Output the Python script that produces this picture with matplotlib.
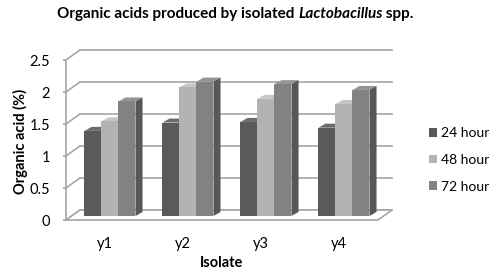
"""Excel-style pseudo-3D clustered bar chart of organic acid production."""

import matplotlib

matplotlib.use("Agg")
import matplotlib.pyplot as plt
from matplotlib.patches import Polygon
import numpy as np

isolates = ["y1", "y2", "y3", "y4"]
series = ["24 hour", "48 hour", "72 hour"]
acid_24h = [1.33, 1.46, 1.47, 1.38]
acid_48h = [1.48, 2.01, 1.83, 1.75]
acid_72h = [1.79, 2.10, 2.06, 1.97]
y_ticks = [0, 0.5, 1, 1.5, 2, 2.5]

front_colors = ["#5a5a5a", "#b3b3b3", "#828282"]
top_colors = ["#6c6c6c", "#c6c6c6", "#949494"]
side_colors = ["#434343", "#8c8c8c", "#575757"]
grid_color = "#a6a6a6"

# depth effect, in data units
BAR_W = 0.218
SHIFT = (0.064, 0.0625)   # bar front face sits behind the axis front plane
BAR_D = (0.09, 0.0625)    # depth of each bar
WALL_D = (0.18, 0.156)    # depth of the walls

plt.rcParams["font.family"] = ["Lato", "DejaVu Sans"]

fig = plt.figure(figsize=(5, 2.79), dpi=100)
ax = fig.add_axes([66 / 500, 59 / 279, 312 / 500, 160 / 279])
ax.set_xlim(-0.5, 3.5)
ax.set_ylim(0, 2.5)
for name in ("top", "right", "bottom"):
    ax.spines[name].set_visible(False)
ax.spines["left"].set_color(grid_color)
ax.spines["left"].set_linewidth(1.2)

# back wall gridlines and left wall slants
wx, wy = WALL_D
for t in y_ticks:
    ax.plot([-0.5 + wx, 3.5 + wx], [t + wy, t + wy], color=grid_color,
            lw=1.2, clip_on=False, zorder=1)
    ax.plot([-0.5, -0.5 + wx], [t, t + wy], color=grid_color,
            lw=1.2, clip_on=False, zorder=1)

# floor
floor = Polygon([(-0.5, 0), (3.5, 0), (3.5 + wx, wy), (-0.5 + wx, wy)],
                closed=True, facecolor="white", edgecolor=grid_color,
                lw=1.2, clip_on=False, zorder=1.5)
ax.add_patch(floor)

x = np.arange(len(isolates))
bx, by = BAR_D
handles = []
for j, vals in enumerate([acid_24h, acid_48h, acid_72h]):
    xs = x + (j - 1) * BAR_W + SHIFT[0]
    z = 3 + j
    bars = ax.bar(xs, vals, width=BAR_W, bottom=SHIFT[1],
                  color=front_colors[j], clip_on=False, zorder=z + 0.1,
                  label=series[j])
    handles.append(bars)
    for xc, v in zip(xs, vals):
        x0, x1 = xc - BAR_W / 2, xc + BAR_W / 2
        y0, y1 = SHIFT[1], SHIFT[1] + v
        top = Polygon([(x0, y1), (x1, y1), (x1 + bx, y1 + by), (x0 + bx, y1 + by)],
                      closed=True, facecolor=top_colors[j], edgecolor="none",
                      clip_on=False, zorder=z)
        side = Polygon([(x1, y0), (x1 + bx, y0 + by), (x1 + bx, y1 + by), (x1, y1)],
                       closed=True, facecolor=side_colors[j], edgecolor="none",
                       clip_on=False, zorder=z)
        ax.add_patch(top)
        ax.add_patch(side)

ax.set_yticks(y_ticks)
ax.set_yticklabels(["0", "0.5", "1", "1.5", "2", "2.5"])
ax.set_xticks(x)
ax.set_xticklabels(isolates)
ax.tick_params(axis="y", length=2.5, width=1.2, color=grid_color, pad=9,
               labelsize=10.5, labelcolor="black")
ax.tick_params(axis="x", length=0, pad=12, labelsize=10.5, labelcolor="black")

fig.text(20 / 500, 1 - 141 / 279, "Organic acid (%)", rotation=90,
         ha="center", va="center", fontsize=10.5, fontweight="bold")
fig.text(222 / 500, 1 - 263 / 279, "Isolate", ha="center", va="center",
         fontsize=10.5, fontweight="bold")

# title with the genus in italics
t1 = fig.text(57 / 500, 1 - 21 / 279, "Organic acids produced by isolated ",
              fontsize=11, fontweight="bold", ha="left", va="bottom")
t2 = ax.annotate("Lactobacillus", xy=(1, 0), xycoords=t1, ha="left",
                 va="bottom", fontsize=11, fontweight="bold",
                 fontstyle="italic", annotation_clip=False)
ax.annotate(" spp.", xy=(1, 0), xycoords=t2, ha="left", va="bottom",
            fontsize=11, fontweight="bold", annotation_clip=False)

fig.legend(handles, series, loc="center left",
           bbox_to_anchor=(429 / 500, 1 - 160 / 279), frameon=False,
           fontsize=10, handlelength=0.55, handleheight=0.55,
           handletextpad=0.3, labelspacing=1.05, borderpad=0,
           borderaxespad=0)

fig.savefig("out.png", dpi=100)
